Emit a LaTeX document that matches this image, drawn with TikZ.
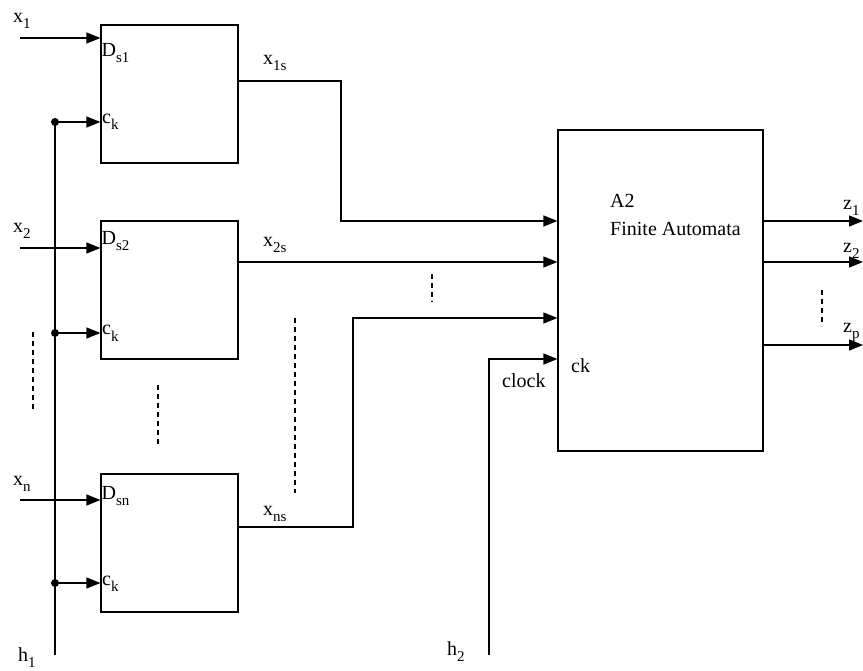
\documentclass[tikz,border=0pt]{standalone}
\usepackage{fontspec}
\setmainfont{Liberation Serif}
\usepackage{tikz}
\usetikzlibrary{arrows.meta,calc,positioning}

\newcommand{\lowsub}[2]{#1\raisebox{-6pt}{\fontsize{15}{15}\selectfont #2}}

\begin{document}
\begin{tikzpicture}[x=1pt, y=-1pt,
    wire/.style={line width=1.2pt},
    sig/.style={line width=1.2pt, -{Triangle[length=14pt,width=11pt]}},
    dots/.style={line width=1.2pt, dash pattern=on 5pt off 4pt},
    ffbox/.style={draw, line width=1.2pt, minimum width=137pt, minimum height=138pt, inner sep=0pt},
    lbl/.style={anchor=base west, inner sep=0pt, font=\fontsize{20}{24}\selectfont}]

    \useasboundingbox (0,0) rectangle (863,671);

    % Flip-flops
    \foreach \n/\yc/\yd/\yk/\yb/\yl/\sfx in {1/94/38/122/57/23/1, 2/290/248/333/245/233/2, 3/543/500/583/499/485/n} {
        \node[ffbox] (ff\n) at (169.5,\yc) {};
        \coordinate (x\n) at (20,\yd);
        \coordinate (t\n) at (55,\yk);
        \draw[sig] (x\n) -- (x\n -| ff\n.west);
        \draw[sig] (t\n) -- (t\n -| ff\n.west);
        \fill (t\n) circle (4pt);
        \node[lbl] (xl\n) at (13,\yl) {\lowsub{x}{\sfx}};
        \node[lbl] (dl\n) at (101.5,\yb) {\lowsub{D}{s\sfx}};
        \node[lbl] (cl\n) at (102,\yk+2) {\lowsub{c}{k}};
    }

    % Clock h1
    \coordinate (h1) at (55,655);
    \draw[wire] (h1) -- (t1);
    \node[lbl] (h1l) at (18,661) {\lowsub{h}{1}};

    % Automaton
    \node[draw, line width=1.2pt, minimum width=205pt, minimum height=321pt, inner sep=0pt] (fa) at (660.5,290.5) {};
    \node[lbl] (fat) at (610,208) {A2};
    \node[lbl] (fan) at (610,236) {Finite Automata};
    \node[lbl] (ckl) at (571,373) {ck};

    % Outputs of the flip-flops
    \draw[sig] (ff1.east |- 0,81) -| (341,221) -- (fa.west |- 0,221);
    \draw[sig] (ff2.east |- 0,262) -- (fa.west |- 0,262);
    \draw[sig] (ff3.east |- 0,527) -| (353,318) -- (fa.west |- 0,318);
    \node[lbl] (o1) at (263,65) {\lowsub{x}{1s}};
    \node[lbl] (o2) at (263,247) {\lowsub{x}{2s}};
    \node[lbl] (o3) at (263,515) {\lowsub{x}{ns}};

    % Clock h2
    \coordinate (h2) at (489,655);
    \draw[sig] (h2) |- (fa.west |- 0,359);
    \node[lbl] (h2l) at (447,655) {\lowsub{h}{2}};
    \node[lbl] (clk) at (502,388) {clock};

    % Outputs z
    \foreach \n/\yz/\yl/\sfx in {1/221/210/1, 2/262/253/2, 3/345/333/p} {
        \coordinate (z\n) at (863,\yz);
        \draw[sig] (fa.east |- z\n) -- (z\n);
        \node[lbl] (zl\n) at (843,\yl) {\lowsub{z}{\sfx}};
    }

    % Dots
    \draw[dots] (33,332) -- (33,412);
    \draw[dots] (158,385) -- (158,446);
    \draw[dots] (295,318) -- (295,493);
    \draw[dots] (432,274) -- (432,302);
    \draw[dots] (822,290) -- (822,326);

\end{tikzpicture}
\end{document}
